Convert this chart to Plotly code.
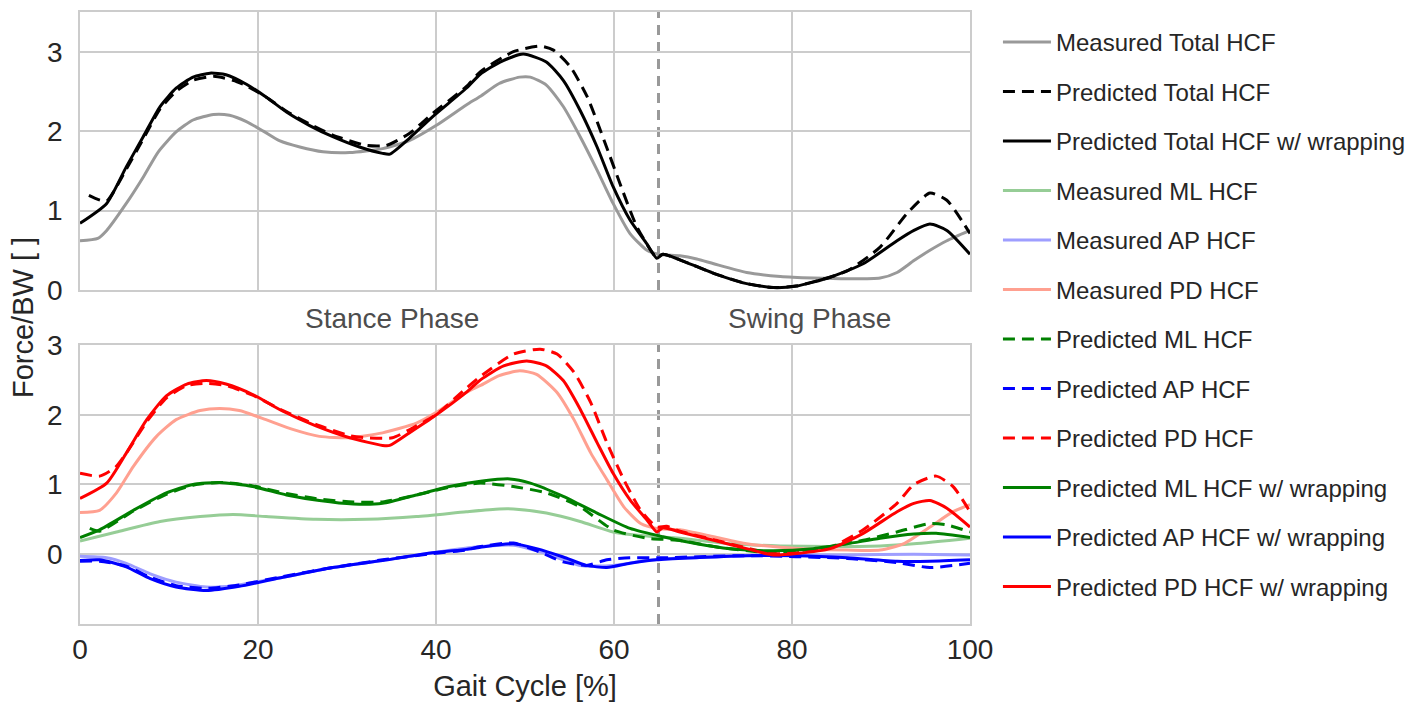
import plotly.graph_objects as go

# ---- data (Force/BW vs gait cycle %) ----
# top panel: total hip contact force
meas_total_x = [0, 2, 3, 5.2, 7.1, 8.8, 10.8, 12.7, 15, 16.8, 18.7, 20.6, 22.4, 24.7, 27.3, 30.3, 34, 37, 40, 43.4,
                45, 47.1, 49.4, 50.6, 52.4, 54.3, 56.2, 58.1, 59.9, 61.8, 63.7, 65, 67.4, 69.3, 71.2, 74.9, 78.7,
                82.4, 86.2, 89.9, 91.8, 93.7, 95.5, 97.4, 100]
meas_total_y = [0.62, 0.65, 0.75, 1.09, 1.42, 1.74, 1.99, 2.14, 2.21, 2.20, 2.12, 2.0, 1.88, 1.80, 1.74, 1.73, 1.78,
                1.88, 2.07, 2.33, 2.44, 2.60, 2.68, 2.68, 2.58, 2.31, 1.93, 1.51, 1.09, 0.71, 0.50, 0.45, 0.43, 0.39,
                0.33, 0.22, 0.17, 0.15, 0.14, 0.15, 0.22, 0.37, 0.50, 0.62, 0.75]

pred_total_x = [1, 2, 3, 5.2, 7.1, 9, 10.8, 12.7, 15, 17.2, 18.7, 20.9, 23.2, 25.8, 28.4, 32.2, 34.4, 37, 39.6, 43.4,
                45, 48.7, 51.7, 53.2, 55.1, 57, 58.9, 60.8, 62.6, 64.8, 65.5, 67.4, 71.2, 74.9, 77.9, 80.5, 83,
                86.2, 89.9, 92.9, 95.5, 97.4, 100]
pred_total_y = [1.19, 1.14, 1.12, 1.52, 1.90, 2.28, 2.50, 2.64, 2.69, 2.64, 2.57, 2.43, 2.25, 2.09, 1.95, 1.82, 1.82,
                1.97, 2.22, 2.56, 2.75, 3.0, 3.07, 3.02, 2.81, 2.43, 1.88, 1.30, 0.79, 0.41, 0.45, 0.38, 0.21, 0.08,
                0.03, 0.05, 0.12, 0.24, 0.54, 0.96, 1.22, 1.13, 0.71]

wrap_total_x = [0, 3, 5.2, 7.1, 9, 10.8, 12.7, 14.6, 16.4, 18.7, 20.9, 23.2, 25.8, 28.4, 31.4, 34, 34.8, 37, 39.6,
                43.4, 45, 47.2, 49.8, 52.4, 54.3, 56.2, 58.1, 59.9, 61.8, 63.7, 64.8, 65.5, 67.4, 71.2, 74.9, 77.9,
                80.5, 84.3, 88, 91.8, 93.7, 95.5, 97.4, 100]
wrap_total_y = [0.84, 1.09, 1.55, 1.93, 2.31, 2.54, 2.68, 2.73, 2.71, 2.59, 2.43, 2.24, 2.07, 1.93, 1.80, 1.72, 1.71,
                1.91, 2.18, 2.54, 2.72, 2.87, 2.97, 2.87, 2.64, 2.26, 1.80, 1.30, 0.88, 0.58, 0.40, 0.45, 0.38, 0.21,
                0.08, 0.03, 0.05, 0.16, 0.33, 0.62, 0.75, 0.83, 0.75, 0.45]

# bottom panel: components
meas_ml_x = [0, 4.1, 9, 13.5, 17.2, 20.9, 26.5, 32.2, 37.8, 43.4, 47.1, 48.7, 52.4, 56.2, 59.9, 63.7, 67.4, 73,
             78.7, 84.3, 89.9, 93.7, 100]
meas_ml_y = [0.19, 0.32, 0.47, 0.54, 0.57, 0.54, 0.50, 0.50, 0.54, 0.61, 0.65, 0.65, 0.59, 0.47, 0.32, 0.26, 0.23,
             0.15, 0.12, 0.11, 0.12, 0.15, 0.23]

meas_ap_x = [0, 3, 5.2, 7.9, 10.8, 14.2, 17.2, 22.8, 28.4, 34, 39.6, 45, 48.7, 52.4, 56.2, 59.9, 63.7, 71.2, 78.7,
             86.2, 93.7, 100]
meas_ap_y = [-0.03, -0.05, -0.13, -0.28, -0.40, -0.47, -0.45, -0.33, -0.19, -0.09, 0.02, 0.11, 0.13, 0.01, -0.16,
             -0.16, -0.09, -0.03, -0.01, -0.01, 0.00, -0.01]

meas_pd_x = [0, 2.2, 4.1, 6, 8.6, 10.8, 13.5, 15.7, 17.9, 20.9, 23.9, 26.9, 30.3, 34, 37.8, 40, 43.4, 45, 47.1,
             49.4, 51.3, 53.6, 55.5, 57.4, 59.2, 61.1, 63, 64.8, 67.4, 71.2, 74.9, 78.7, 82.4, 86.2, 89.9, 92.5,
             95.5, 98.1, 100]
meas_pd_y = [0.60, 0.63, 0.88, 1.26, 1.69, 1.93, 2.06, 2.09, 2.06, 1.93, 1.79, 1.69, 1.67, 1.74, 1.88, 2.03, 2.32,
             2.42, 2.56, 2.63, 2.58, 2.32, 1.93, 1.45, 1.07, 0.68, 0.44, 0.37, 0.35, 0.25, 0.15, 0.10, 0.07, 0.06,
             0.06, 0.15, 0.39, 0.61, 0.71]

pred_ml_x = [1.1, 2.2, 6, 9.7, 12.7, 15.7, 19.4, 23.2, 26.9, 30.7, 34, 37.8, 41.5, 45, 48.7, 52.4, 56.2, 59.9, 63.7,
             67.4, 71.2, 77, 82.4, 88, 91.8, 95.5, 97.4, 100]
pred_ml_y = [0.37, 0.33, 0.62, 0.86, 0.99, 1.03, 0.98, 0.87, 0.79, 0.75, 0.75, 0.85, 0.96, 1.02, 0.97, 0.88, 0.68,
             0.35, 0.23, 0.20, 0.11, 0.03, 0.07, 0.20, 0.32, 0.44, 0.42, 0.32]

pred_ap_x = [0, 2.2, 5.2, 7.9, 10.8, 14.2, 17.9, 22.8, 28.4, 34, 39.6, 43.4, 45, 48.7, 51.7, 54.3, 56.9, 59.2, 61.8,
             65.5, 74.9, 86.2, 91.8, 95.5, 100]
pred_ap_y = [-0.10, -0.10, -0.17, -0.33, -0.45, -0.49, -0.44, -0.32, -0.19, -0.08, 0.01, 0.06, 0.11, 0.16, 0.03,
             -0.11, -0.16, -0.08, -0.05, -0.05, -0.02, -0.06, -0.12, -0.19, -0.13]

pred_pd_x = [0, 2.2, 4, 5.2, 7.5, 9.7, 12, 14.2, 16.4, 19.4, 22.8, 26.5, 30.3, 32.2, 35.1, 37.8, 40, 43.4, 45, 48.7,
             51.7, 53.6, 55.5, 57.4, 59.2, 61.1, 63, 64.8, 65.9, 67.4, 71.2, 74.9, 77.9, 80.5, 84.3, 88, 91.8,
             93.7, 96.2, 98.1, 100]
pred_pd_y = [1.16, 1.12, 1.25, 1.45, 1.90, 2.24, 2.42, 2.45, 2.42, 2.28, 2.06, 1.86, 1.70, 1.67, 1.67, 1.84, 2.00,
             2.38, 2.55, 2.87, 2.94, 2.87, 2.61, 2.17, 1.60, 1.07, 0.63, 0.39, 0.40, 0.33, 0.21, 0.09, 0.01, 0.02,
             0.10, 0.35, 0.73, 1.00, 1.12, 0.97, 0.61]

wrap_ml_x = [0, 2.2, 6, 9.7, 12.7, 15.7, 19.4, 23.2, 26.9, 30.7, 34, 37.8, 41.5, 45.2, 48.3, 50.6, 54.3, 58.1, 61.8,
             65.5, 69.3, 73, 77.9, 82.4, 86.2, 89.9, 93.7, 96.2, 100]
wrap_ml_y = [0.24, 0.35, 0.63, 0.88, 1.0, 1.03, 0.97, 0.85, 0.77, 0.72, 0.73, 0.85, 0.97, 1.05, 1.08, 1.02, 0.83,
             0.59, 0.37, 0.25, 0.15, 0.08, 0.05, 0.08, 0.15, 0.23, 0.29, 0.30, 0.24]

wrap_ap_x = [0, 2.2, 5.2, 7.9, 10.8, 14.2, 17.9, 22.8, 28.4, 34, 39.6, 43.4, 45, 48.7, 51.3, 54.3, 56.9, 59.2, 61.8,
             64.8, 69.3, 74.9, 80.5, 86.2, 91.8, 95.5, 100]
wrap_ap_y = [-0.09, -0.08, -0.18, -0.35, -0.47, -0.52, -0.46, -0.33, -0.19, -0.09, 0.02, 0.07, 0.10, 0.15, 0.08,
             -0.04, -0.16, -0.19, -0.13, -0.08, -0.05, -0.02, -0.02, -0.05, -0.10, -0.10, -0.08]

wrap_pd_x = [0, 3, 5.2, 7.5, 9.7, 12, 14.2, 16.4, 19.4, 22.8, 26.5, 30.3, 34, 34.8, 37, 39.6, 43.4, 45, 47.6, 50.2,
             52.4, 54.3, 56.2, 58.1, 59.9, 61.8, 63.7, 64.8, 65.5, 67.4, 71.2, 74.9, 77.9, 80.5, 84.3, 88, 91.8,
             93.7, 95.5, 97.4, 100]
wrap_pd_y = [0.80, 1.02, 1.45, 1.93, 2.27, 2.44, 2.49, 2.44, 2.29, 2.05, 1.84, 1.67, 1.56, 1.56, 1.74, 1.96, 2.32,
             2.50, 2.70, 2.77, 2.70, 2.49, 2.08, 1.60, 1.16, 0.78, 0.49, 0.32, 0.38, 0.32, 0.20, 0.08, -0.01, 0.01,
             0.08, 0.30, 0.61, 0.73, 0.77, 0.66, 0.39]

toe_off = 65  # stance / swing boundary, % gait cycle

# (name, x, y, colour, dash, axis)
series = [
    ("Measured Total HCF", meas_total_x, meas_total_y, "#999999", "solid", "y"),
    ("Predicted Total HCF", pred_total_x, pred_total_y, "black", "12px,7px", "y"),
    ("Predicted Total HCF w/ wrapping", wrap_total_x, wrap_total_y, "black", "solid", "y"),
    ("Measured ML HCF", meas_ml_x, meas_ml_y, "#96cd96", "solid", "y2"),
    ("Measured AP HCF", meas_ap_x, meas_ap_y, "#9e9eff", "solid", "y2"),
    ("Measured PD HCF", meas_pd_x, meas_pd_y, "#ffa090", "solid", "y2"),
    ("Predicted ML HCF", pred_ml_x, pred_ml_y, "green", "12px,7px", "y2"),
    ("Predicted AP HCF", pred_ap_x, pred_ap_y, "blue", "12px,7px", "y2"),
    ("Predicted PD HCF", pred_pd_x, pred_pd_y, "red", "12px,7px", "y2"),
    ("Predicted ML HCF w/ wrapping", wrap_ml_x, wrap_ml_y, "green", "solid", "y2"),
    ("Predicted AP HCF w/ wrapping", wrap_ap_x, wrap_ap_y, "blue", "solid", "y2"),
    ("Predicted PD HCF w/ wrapping", wrap_pd_x, wrap_pd_y, "red", "solid", "y2"),
]

fig = go.Figure()
for name, xs, ys, col, dash, ax in series:
    fig.add_trace(go.Scatter(
        x=xs, y=ys, name=name, mode="lines", legendgroup=name,
        line=dict(color=col, width=3, dash=dash, shape="spline", smoothing=0.6),
        xaxis="x" if ax == "y" else "x2", yaxis=ax,
    ))

grid = "#cccccc"
txt = "#262626"
axis_common = dict(showgrid=True, gridcolor=grid, gridwidth=1.5, zeroline=False,
                   showline=True, linecolor=grid, linewidth=1.5, mirror=True,
                   ticks="", tickfont=dict(size=28, color=txt))

# page body has an 8px margin, so the figure is 8px smaller than the window
fig.update_layout(
    width=1420, height=694,
    margin=dict(l=72, r=458, t=4, b=78, autoexpand=False),
    paper_bgcolor="white", plot_bgcolor="white",
    font=dict(family="Arial, Liberation Sans, sans-serif", color=txt),
    xaxis=dict(domain=[0, 1], anchor="y", range=[0, 100], dtick=20, showticklabels=False, **axis_common),
    yaxis=dict(domain=[0.5458, 1], anchor="x", range=[0, 3.5], tickvals=[0, 1, 2, 3],
               ticklabelstandoff=10, **axis_common),
    xaxis2=dict(domain=[0, 1], anchor="y2", range=[0, 100], dtick=20, matches="x", ticklabelstandoff=0,
                title=dict(text="Gait Cycle [%]", font=dict(size=29, color=txt), standoff=14), **axis_common),
    yaxis2=dict(domain=[0, 0.4559], anchor="x2", range=[-1, 3], tickvals=[0, 1, 2, 3],
                ticklabelstandoff=10, **axis_common),
    legend=dict(x=1.0314, y=0.987, xanchor="left", yanchor="top", tracegroupgap=15.3, itemwidth=48,
                font=dict(size=24, color=txt), bgcolor="rgba(0,0,0,0)"),
    showlegend=True,
)

# toe-off dashed line in both panels
for xref, yref in (("x", "y domain"), ("x2", "y2 domain")):
    fig.add_shape(type="line", xref=xref, yref=yref, x0=toe_off, x1=toe_off, y0=0, y1=1, layer="below",
                  line=dict(color="#999999", width=3, dash="10px,7px"))

fig.add_annotation(text="Stance Phase", x=35, y=-0.04, xref="x", yref="y domain",
                   yanchor="top", showarrow=False, font=dict(size=28, color="#4d4d4d"))
fig.add_annotation(text="Swing Phase", x=82, y=-0.04, xref="x", yref="y domain",
                   yanchor="top", showarrow=False, font=dict(size=28, color="#4d4d4d"))
fig.add_annotation(text="Force/BW [ ]", textangle=-90, x=-0.064, y=0.5, xref="paper", yref="paper",
                   xanchor="center", yanchor="middle", showarrow=False, font=dict(size=29, color=txt))

fig.write_html("out.html")
